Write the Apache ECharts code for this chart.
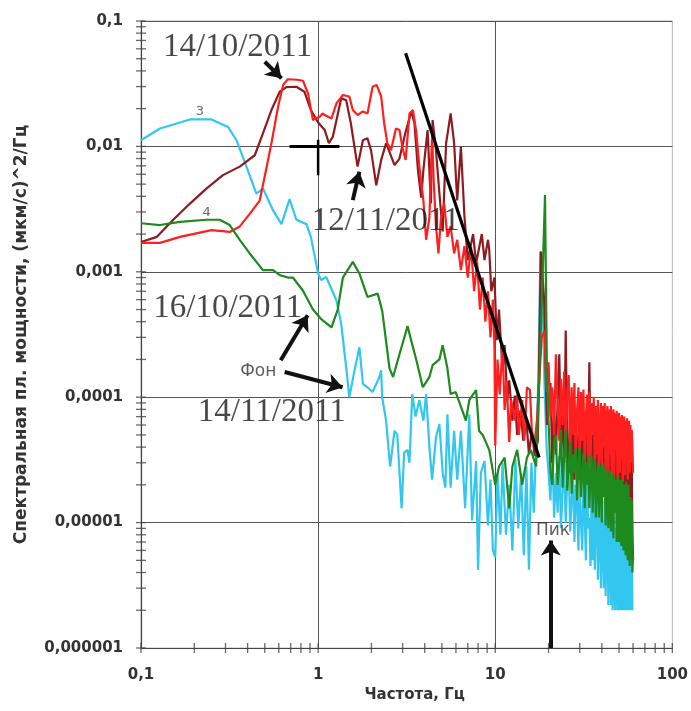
<!DOCTYPE html>
<html><head><meta charset="utf-8">
<script src="https://cdn.jsdelivr.net/npm/echarts@6/dist/echarts.min.js"></script>
<style>html,body{margin:0;padding:0;background:#fff}#c{width:691px;height:711px}</style>
</head><body><div id="c"></div>
<script>
// ---------- axis ticks ----------
const xTicks = [0.1, 1, 10, 100];
const xTickLabels = ['0,1', '1', '10', '100'];
const yTicks = [0.000001, 0.00001, 0.0001, 0.001, 0.01, 0.1];
const yTickLabels = ['0,000001', '0,00001', '0,0001', '0,001', '0,01', '0,1'];
const minorMultipliers = [1, 2, 3, 4, 5, 6, 7, 8, 9];
const xDecades = [0.1, 1, 10];
const yDecades = [0.000001, 0.00001, 0.0001, 0.001, 0.01];

// ---------- series: [frequency Hz, PSD] ----------
const red1410Low = [[0.1,0.0017],[0.128,0.0017],[0.166,0.0019],[0.25,0.00215],[0.317,0.00208],[0.361,0.0023],[0.411,0.0029],[0.468,0.0037],[0.5,0.0058],[0.545,0.0106],[0.594,0.0207],[0.635,0.031],[0.675,0.0343],[0.76,0.034],[0.821,0.0334],[0.877,0.0265],[0.935,0.0162],[0.96,0.0167],[1.02,0.0172],[1.06,0.0183],[1.09,0.0178],[1.19,0.0167],[1.27,0.022],[1.38,0.0257],[1.5,0.025],[1.57,0.0195],[1.67,0.0178],[1.79,0.019],[1.9,0.0183],[2.03,0.0299],[2.14,0.0309],[2.27,0.025],[2.36,0.0153],[2.46,0.0106],[2.58,0.0093],[2.75,0.0139],[2.88,0.0135],[2.99,0.0099],[3.12,0.0078],[3.28,0.0183],[3.43,0.0195],[3.58,0.0131],[3.73,0.0069],[3.93,0.0037],[4.07,0.0018],[4.25,0.0027],[4.4,0.012],[4.5,0.0051],[4.63,0.0023],[4.78,0.0014],[4.93,0.0026],[5.15,0.0035],[5.37,0.0019],[5.6,0.0023],[5.86,0.0014],[6.1,0.0018],[6.4,0.00103],[6.7,0.0016],[7.0,0.0009],[7.3,0.0016],[7.6,0.0007],[7.9,0.0012],[8.2,0.0005],[8.5,0.0009],[8.8,0.0004],[9.1,0.0007],[9.4,0.0003],[9.7,0.0006],[9.9,0.00025],[10,0.000041],[10.3,0.0002],[10.6,0.000105],[11,0.00026],[11.3,0.000079],[11.6,0.000136],[12,0.000044],[12.3,0.000095],[12.9,0.000065],[13.3,0.000105],[13.6,0.00005],[14.2,0.000095],[14.6,0.000045],[15.1,0.00012],[15.7,0.000114],[16.1,0.000054],[16.6,0.000041],[17.2,0.000065],[18.3,0.0003],[19,0.00034],[19.5,0.00011]];
const dark1211Low = [[0.1,0.00173],[0.123,0.0019],[0.152,0.0026],[0.189,0.0035],[0.234,0.0046],[0.29,0.0059],[0.361,0.0069],[0.439,0.0085],[0.488,0.0127],[0.545,0.0195],[0.607,0.0273],[0.662,0.0297],[0.754,0.0299],[0.837,0.0273],[0.91,0.0195],[1.0,0.0155],[1.09,0.0135],[1.15,0.0106],[1.21,0.0119],[1.35,0.0241],[1.44,0.0234],[1.53,0.0153],[1.67,0.0069],[1.79,0.0112],[1.9,0.0116],[1.99,0.0093],[2.13,0.0049],[2.27,0.0078],[2.42,0.0106],[2.7,0.0071],[2.88,0.008],[3.12,0.0131],[3.36,0.019],[3.5,0.0153],[3.66,0.0065],[3.82,0.0039],[3.93,0.0065],[4.15,0.0135],[4.33,0.0035],[4.43,0.0162],[4.63,0.0093],[4.84,0.0042],[5.05,0.0021],[5.28,0.0106],[5.42,0.0135],[5.6,0.0183],[5.86,0.0106],[6.1,0.0037],[6.4,0.0099],[6.7,0.0028],[7.0,0.00124],[7.5,0.002],[7.8,0.00117],[8.4,0.002],[8.7,0.00124],[9.1,0.0018],[9.25,0.0015],[9.5,0.0007],[9.9,0.0009],[10.2,0.000285],[10.5,0.0005],[11,0.000164],[11.3,0.00026],[11.7,0.000094],[12,0.000136],[12.5,0.000065],[12.9,0.000103],[13.3,0.00005],[13.9,0.000079],[14.4,0.000045],[15,0.000065],[15.5,0.000035],[16.1,0.000054],[16.7,0.000034],[17.4,0.000045],[18.1,0.00145],[18.9,0.00059],[19.3,0.00014],[19.6,0.00006]];
const green1610Low = [[0.1,0.00244],[0.128,0.00236],[0.166,0.0025],[0.234,0.0026],[0.278,0.0026],[0.317,0.00236],[0.361,0.0018],[0.411,0.0014],[0.488,0.00103],[0.556,0.00103],[0.607,0.00094],[0.675,0.0009],[0.72,0.0009],[0.82,0.00071],[0.935,0.0005],[1.04,0.00042],[1.19,0.00036],[1.29,0.0005],[1.38,0.0009],[1.57,0.0012],[1.71,0.00097],[1.9,0.00063],[2.17,0.00067],[2.3,0.00049],[2.53,0.00017],[2.65,0.000145],[2.88,0.00022],[3.2,0.00037],[3.36,0.00028],[3.58,0.0002],[3.9,0.00012],[4.25,0.000145],[4.43,0.00018],[4.84,0.0002],[5.05,0.00026],[5.37,0.00017],[5.6,0.000106],[5.98,0.00011],[6.4,0.000084],[6.83,0.000065],[7.14,0.000095],[7.8,0.000114],[8.1,0.000054],[8.5,0.00005],[9.25,0.000038],[10,0.00002],[10.5,0.000028],[11.3,0.000033],[12,0.000013],[12.5,0.000028],[13.3,0.000038],[14.2,0.00002],[15.1,0.000033],[15.9,0.000038],[17,0.000028],[17.7,0.00013],[18.5,0.0009],[19.1,0.0041],[19.3,0.001],[19.6,0.00015]];
const cyan1411Low = [[0.1,0.0112],[0.128,0.0139],[0.189,0.0164],[0.25,0.0164],[0.31,0.0143],[0.346,0.0112],[0.394,0.0069],[0.448,0.0042],[0.489,0.0046],[0.556,0.0031],[0.621,0.0024],[0.69,0.0038],[0.754,0.0026],[0.859,0.0024],[0.91,0.0019],[1.0,0.00097],[1.04,0.00086],[1.11,0.00091],[1.27,0.00059],[1.35,0.000386],[1.44,0.000174],[1.5,0.0001],[1.6,0.00016],[1.71,0.00025],[1.79,0.000128],[1.83,0.00013],[1.9,0.00012],[2.03,0.00011],[2.08,0.00011],[2.22,0.000145],[2.27,0.000164],[2.3,0.0001],[2.42,0.000065],[2.55,0.000028],[2.7,0.000054],[2.8,0.00005],[2.96,0.000013],[3.06,0.000036],[3.2,0.000038],[3.28,0.00003],[3.4,0.000106],[3.55,0.00007],[3.73,0.000095],[3.93,0.000065],[4.07,0.000106],[4.25,0.00004],[4.4,0.000022],[4.63,0.000048],[4.84,0.000061],[5.05,0.000025],[5.23,0.000019],[5.37,0.000073],[5.6,0.000019],[5.86,0.000054],[6.1,0.000022],[6.4,0.000054],[6.76,0.000013],[7.14,0.000073],[7.4,0.0000104],[7.8,0.000031],[8.0,0.0000042],[8.3,0.000025],[8.7,0.000031],[9.1,0.0000095],[9.4,0.000022],[9.7,0.000006],[10,0.0000053],[10.3,0.000025],[10.7,0.000008],[11,0.00003],[11.5,0.000008],[12,0.00002],[12.5,0.000006],[13,0.000032],[13.5,0.000009],[14,0.000025],[14.5,0.0000055],[15,0.000028],[15.5,0.0000042],[16,0.00003],[16.5,0.000012],[17,0.00004],[17.5,0.00013],[18,0.00145],[18.5,0.0006],[19,0.00012],[19.5,0.00004]];

// high-frequency part (20–60 Hz, 0.5 Hz step): shared frequency grid, per-series values
const fHigh = [20,20.5,21,21.5,22,22.5,23,23.5,24,24.5,
  25,25.5,26,26.5,27,27.5,28,28.5,29,29.5,
  30,30.5,31,31.5,32,32.5,33,33.5,34,34.5,
  35,35.5,36,36.5,37,37.5,38,38.5,39,39.5,
  40,40.5,41,41.5,42,42.5,43,43.5,44,44.5,
  45,45.5,46,46.5,47,47.5,48,48.5,49,49.5,
  50,50.5,51,51.5,52,52.5,53,53.5,54,54.5,
  55,55.5,56,56.5,57,57.5,58,58.5,59,59.5,
  60];
const red1410High = [1.9e-4,7e-5,1.2e-4,5e-5,2.2e-4,9e-5,4.5e-5,1.4e-4,6e-5,1.6e-4,
  4e-5,1.1e-4,1.5e-4,3.5e-5,1.2e-4,5e-5,1.3e-4,3e-5,8e-5,1.2e-4,
  3.2e-5,1.1e-4,4.5e-5,1.15e-4,2.8e-5,7e-5,1.05e-4,3e-5,1.1e-4,2.6e-5,
  9e-5,5e-5,1.0e-4,2.5e-5,8.5e-5,3.5e-5,9.5e-5,2.4e-5,6e-5,9e-5,
  2.6e-5,8.5e-5,4e-5,9e-5,2.3e-5,7e-5,8.5e-5,2.5e-5,8e-5,3.5e-5,
  8.5e-5,2.2e-5,6.5e-5,8e-5,2.4e-5,7.5e-5,3.8e-5,7.8e-5,2.2e-5,6e-5,
  7.5e-5,2.5e-5,7e-5,3.2e-5,7.2e-5,2.1e-5,5.5e-5,7e-5,2.4e-5,6.5e-5,
  3.5e-5,6.8e-5,2.2e-5,5e-5,6.5e-5,2.5e-5,6e-5,3e-5,5.5e-5,4e-5,
  2.5e-5];
const dark1211High = [6e-5,1.3e-4,3e-5,8e-5,3.5e-5,9e-5,2.2e-4,4e-5,7e-5,3e-5,
  3.4e-4,4e-5,2.5e-5,9e-5,3e-5,6e-5,2.2e-5,8e-5,4e-5,2.2e-5,
  8e-5,2e-5,1e-4,3e-5,2e-5,6e-5,2.5e-5,5e-5,1.9e-4,3e-5,
  2.5e-5,7e-5,1.9e-5,4.5e-5,7.5e-5,2e-5,6.5e-5,2.5e-5,1.7e-5,6.5e-5,
  8e-5,2e-5,1.7e-5,5e-5,4e-5,1.6e-5,6e-5,2.5e-5,1.5e-5,5e-5,
  7e-5,1.8e-5,2.5e-5,4.5e-5,1.4e-5,5e-5,2e-5,1.3e-5,4.5e-5,2.5e-5,
  4.5e-5,1.3e-5,2e-5,5e-5,1.2e-5,3e-5,5e-5,1.4e-5,4e-5,1.3e-5,
  4e-5,2e-5,1.1e-5,4.5e-5,2.5e-5,1.2e-5,3.5e-5,1.5e-5,3e-5,8e-6,
  5e-6];
const green1610High = [6.5e-5,2.5e-5,2e-5,4.5e-5,5e-5,2e-5,3e-5,5.5e-5,1.9e-5,3.5e-5,
  5.5e-5,1.8e-5,2.8e-5,4.5e-5,1.7e-5,3.5e-5,2.5e-5,4e-5,1.5e-5,3e-5,
  4e-5,1.6e-5,2.5e-5,3.6e-5,1.3e-5,3e-5,2e-5,3.4e-5,1.3e-5,2.4e-5,
  3.4e-5,1.2e-5,2.5e-5,3.2e-5,1.1e-5,2.2e-5,3e-5,1.1e-5,2e-5,2.8e-5,
  1e-5,3e-5,1.6e-5,2.8e-5,9.5e-6,2e-5,2.6e-5,9e-6,1.6e-5,2.6e-5,
  8.5e-6,2.5e-5,1.5e-5,7.5e-6,2.4e-5,1.2e-5,2.2e-5,7e-6,1.4e-5,2.4e-5,
  7e-6,2.2e-5,1.2e-5,6.5e-6,2.2e-5,1e-5,6e-6,2e-5,1.1e-5,5.5e-6,
  2.1e-5,9e-6,5e-6,2e-5,8e-6,4.5e-6,1.6e-5,5e-6,1.5e-5,4e-6,
  5.5e-6];
const cyan1411High = [2.5e-5,1.5e-5,4e-5,1.1e-5,2.5e-5,1.2e-5,3.4e-5,9e-6,1.8e-5,3e-5,
  1e-5,2.2e-5,2.9e-5,8.5e-6,1.5e-5,2.6e-5,7e-6,2e-5,1.4e-5,6e-6,
  2.4e-5,1e-5,6e-6,2.2e-5,1.2e-5,5e-6,2e-5,9e-6,1.1e-5,4.5e-6,
  1.8e-5,5e-6,2e-5,4.2e-6,1.2e-5,1.6e-5,3.5e-6,8e-6,1.5e-5,3e-6,
  1.3e-5,6e-6,3e-6,1.5e-5,2.6e-6,1e-5,1.3e-5,2.2e-6,6e-6,1.2e-5,
  2.2e-6,1.1e-5,2e-6,5e-6,1.1e-5,2e-6,9e-6,4e-6,2e-6,9.5e-6,
  2e-6,6e-6,8.5e-6,2e-6,4e-6,8e-6,2e-6,7e-6,2e-6,5e-6,
  8e-6,2e-6,3e-6,7e-6,2e-6,6.5e-6,2e-6,4e-6,6e-6,2e-6,
  2e-6];

// slope line and annotation anchors (data space)
const slopeLine = [[3.12,0.0552],[17.7,0.000033]];
const crossH = [[0.69,0.01],[1.32,0.01]];
const crossV = [[1,0.0113],[1,0.0059]];
const arrowSegments = [
  [[0.5,0.0473],[0.621,0.0349]],
  [[1.57,0.00373],[1.71,0.00627]],
  [[0.615,0.000197],[0.873,0.00045]],
  [[0.647,0.000159],[1.374,0.00012]],
  [[20.6,0.000001],[20.6,0.0000072]]
];
const annotationTexts = ['14/10/2011','12/11/2011','16/10/2011','14/11/2011','Фон','Пик','3','4'];
const annotationAnchors = [[0.351,0.062],[2.41,0.00253],[0.309,0.000512],[0.547,0.0000764],[0.459,0.00016],[21.2,0.00000867],[0.215,0.0188],[0.235,0.00294]];
const annotationKinds = ['date','date','date','date','word','word','num','num'];

// ---------- build ----------
function join(low, high) {
  const n = Math.min(fHigh.length, high.length);
  const out = low.slice();
  for (let i = 0; i < n; i++) out.push([fHigh[i], high[i]]);
  return out;
}
const tickX = [], tickY = [];
xDecades.forEach(d => minorMultipliers.forEach(m => tickX.push([m * d, yTicks[0]])));
tickX.push([100, yTicks[0]]);
yDecades.forEach(d => minorMultipliers.forEach(m => tickY.push([xTicks[0], m * d])));
tickY.push([xTicks[0], 0.1]);

function nearestLabel(v, ticks, labels) {
  let best = 0, bd = Infinity;
  ticks.forEach((t, i) => { const d = Math.abs(Math.log10(t) - Math.log10(v)); if (d < bd) { bd = d; best = i; } });
  return labels[best];
}
const sans = '"DejaVu Sans", Verdana, sans-serif';
const serif = '"Liberation Serif", "Times New Roman", serif';
const kindStyle = {
  date: { fontFamily: serif, fontSize: 33, color: '#1a1a1a' },
  word: { fontFamily: sans, fontSize: 17, color: '#333' },
  num: { fontFamily: sans, fontSize: 13, color: '#444' }
};
function lineSeries(name, data, color, width, z) {
  return { name, type: 'line', data, showSymbol: false, symbol: 'none', silent: true, z,
    lineStyle: { color, width }, itemStyle: { color }, emphasis: { disabled: true } };
}

const chart = echarts.init(document.getElementById('c'), null, { renderer: 'canvas' });
chart.setOption({
  animation: false,
  backgroundColor: '#fff',
  grid: { left: 141, right: 18, top: 21, bottom: 63, show: true, borderColor: '#b8b8b8', borderWidth: 1 },
  xAxis: {
    type: 'log', logBase: 10, min: 0.1, max: 100,
    axisLine: { show: true, onZero: false, lineStyle: { color: '#444', width: 1.2 } },
    axisTick: { show: false },
    axisLabel: { formatter: v => nearestLabel(v, xTicks, xTickLabels), margin: 20, fontFamily: sans, fontWeight: 'bold', fontSize: 15, color: '#333' },
    splitLine: { show: true, showMinLine: false, showMaxLine: false, lineStyle: { color: '#555', width: 1 } },
    name: 'Частота, Гц', nameLocation: 'middle', nameGap: 40,
    nameTextStyle: { fontFamily: sans, fontWeight: 'bold', fontSize: 15, color: '#333', padding: [0, 0, 0, 16] }
  },
  yAxis: {
    type: 'log', logBase: 10, min: 0.000001, max: 0.1,
    axisLine: { show: true, onZero: false, lineStyle: { color: '#444', width: 1.2 } },
    axisTick: { show: false },
    axisLabel: { formatter: v => nearestLabel(v, yTicks, yTickLabels), margin: 18, fontFamily: sans, fontWeight: 'bold', fontSize: 15, color: '#333' },
    splitLine: { show: true, showMinLine: false, showMaxLine: false, lineStyle: { color: '#555', width: 1 } },
    name: 'Спектральная пл. мощности, (мкм/с)^2/Гц', nameLocation: 'middle', nameGap: 111,
    nameTextStyle: { fontFamily: sans, fontWeight: 'bold', fontSize: 17, color: '#333' }
  },
  series: [
    lineSeries('14/11/2011', join(cyan1411Low, cyan1411High), '#33c6ee', 2.2, 2),
    lineSeries('12/11/2011', join(dark1211Low, dark1211High), '#8e1b1f', 2.2, 3),
    lineSeries('14/10/2011', join(red1410Low, red1410High), '#ff1f1f', 2.2, 4),
    lineSeries('16/10/2011', join(green1610Low, green1610High), '#1e8a1e', 2.2, 5),
    Object.assign(lineSeries('slope', slopeLine, '#000', 3.2, 6), {
      markLine: {
        silent: true, animation: false, symbol: ['none', 'arrow'], symbolSize: 15,
        label: { show: false }, emphasis: { disabled: true },
        lineStyle: { color: '#111', width: 4, type: 'solid' },
        data: arrowSegments.map(s => [{ coord: s[0] }, { coord: s[1] }])
      }
    }),
    lineSeries('crossH', crossH, '#000', 3, 6),
    lineSeries('crossV', crossV, '#000', 2.5, 6),
    { type: 'scatter', data: tickX, symbol: 'rect', symbolSize: [1.3, 10], clip: false, silent: true, z: 7,
      itemStyle: { color: '#444' } },
    { type: 'scatter', data: tickY, symbol: 'rect', symbolSize: [10, 1.3], clip: false, silent: true, z: 7,
      itemStyle: { color: '#444' } },
    { type: 'scatter', silent: true, z: 10, clip: false, symbolSize: 1,
      itemStyle: { color: 'rgba(0,0,0,0)' },
      data: annotationTexts.map((t, i) => ({ name: t, value: annotationAnchors[i],
        label: Object.assign({ show: true, position: 'inside', formatter: '{b}' }, kindStyle[annotationKinds[i]]) }))
    }
  ]
});
</script></body></html>
